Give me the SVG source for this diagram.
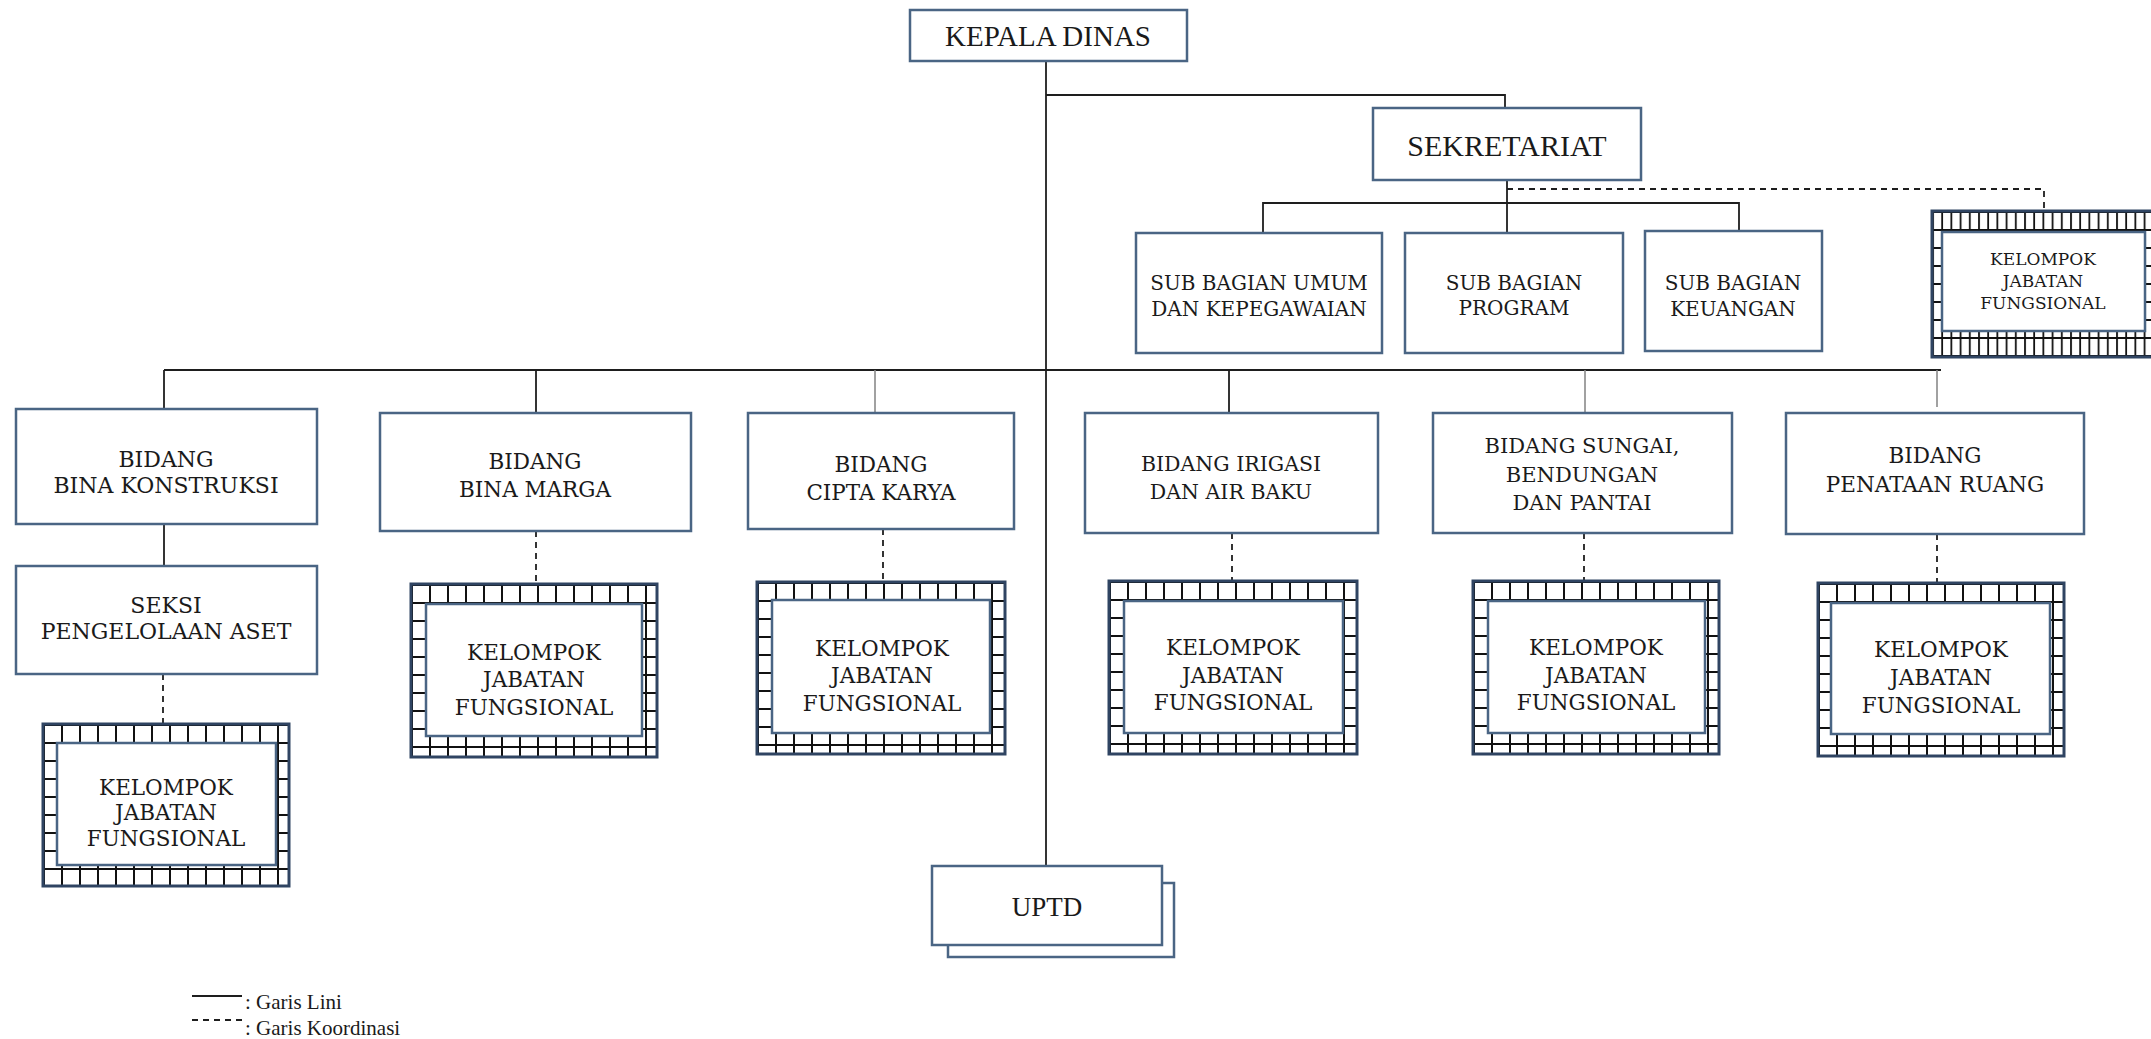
<svg xmlns="http://www.w3.org/2000/svg" width="2151" height="1039" viewBox="0 0 2151 1039">
<defs>
<style>
.box{fill:#fff;stroke:#4a6584;stroke-width:2.5}
.kout{stroke:#2f4462;stroke-width:3}
.kin{fill:#fff;stroke:#4a6584;stroke-width:2.5}
.ln{fill:none;stroke:#1e1e1e;stroke-width:1.8}
.lg{fill:none;stroke:#8a8a8a;stroke-width:1.6}
.dash{fill:none;stroke:#1e1e1e;stroke-width:1.8;stroke-dasharray:6 5}
.t{font-family:"DejaVu Serif",serif;font-size:21.5px;fill:#1a1a1a;text-anchor:middle}
.tt{font-family:"Liberation Serif",serif;font-size:29px;fill:#1a1a1a;text-anchor:middle}
.sb{font-size:20px}
.lgd{font-family:"Liberation Serif",serif;font-size:21px;fill:#1a1a1a}
</style>
<pattern id="grid" width="18" height="18" patternUnits="userSpaceOnUse">
<rect width="18" height="18" fill="#fff"/>
<path d="M0 1H18M1 0V18" stroke="#111" stroke-width="2" fill="none"/>
</pattern>
<pattern id="grid2" width="9.2" height="18" patternUnits="userSpaceOnUse">
<rect width="9.2" height="18" fill="#fff"/>
<path d="M0 1H9.2M1 0V18" stroke="#111" stroke-width="1.8" fill="none"/>
</pattern>
</defs>
<rect width="2151" height="1039" fill="#fff"/>

<g id="connectors">
<path class="ln" d="M1046 61V866"/>
<path class="ln" d="M1046 95H1505V108"/>
<path class="ln" d="M1507 180V233"/>
<path class="ln" d="M1263 233V203H1739V231"/>
<path class="dash" d="M1507 189H2044V211"/>
<path class="ln" d="M164 370H1941"/>
<path class="ln" d="M164 370V409"/>
<path class="ln" d="M164 524V566"/>
<path class="dash" d="M163 674V724"/>
<path class="ln" d="M536 370V413"/>
<path class="dash" d="M536 531V584"/>
<path class="lg" d="M875 370V413"/>
<path class="dash" d="M883 529V582"/>
<path class="ln" d="M1229 370V413"/>
<path class="dash" d="M1232 533V581"/>
<path class="lg" d="M1585 370V413"/>
<path class="dash" d="M1584 533V581"/>
<path class="lg" d="M1937 370V407"/>
<path class="dash" d="M1937 534V583"/>
</g>

<g id="kepala-dinas">
<rect class="box" x="910" y="10" width="277" height="51"/>
<text class="tt" x="1048" y="46">KEPALA DINAS</text>
</g>
<g id="sekretariat">
<rect class="box" x="1373" y="108" width="268" height="72"/>
<text class="tt" style="font-size:30px" x="1507" y="156">SEKRETARIAT</text>
</g>
<g id="sub-umum">
<rect class="box" x="1136" y="233" width="246" height="120"/>
<text class="t sb" x="1259" y="290">SUB BAGIAN UMUM</text>
<text class="t sb" x="1259" y="316">DAN KEPEGAWAIAN</text>
</g>
<g id="sub-program">
<rect class="box" x="1405" y="233" width="218" height="120"/>
<text class="t sb" x="1514" y="290">SUB BAGIAN</text>
<text class="t sb" x="1514" y="315">PROGRAM</text>
</g>
<g id="sub-keuangan">
<rect class="box" x="1645" y="231" width="177" height="120"/>
<text class="t sb" x="1733" y="290">SUB BAGIAN</text>
<text class="t sb" x="1733" y="316">KEUANGAN</text>
</g>
<g id="kjf-sekretariat" transform="translate(1932,211)">
<rect class="kout" width="225" height="146" fill="url(#grid2)"/>
<rect class="kin" x="10" y="21" width="203" height="99"/>
<text class="t" style="font-size:17px" x="111" y="54">KELOMPOK</text>
<text class="t" style="font-size:17px" x="111" y="76">JABATAN</text>
<text class="t" style="font-size:17px" x="111" y="98">FUNGSIONAL</text>
</g>

<g id="bidang-bina-konstruksi">
<rect class="box" x="16" y="409" width="301" height="115"/>
<text class="t" style="font-size:22px" x="166" y="467">BIDANG</text>
<text class="t" style="font-size:22px" x="166" y="493">BINA KONSTRUKSI</text>
</g>
<g id="seksi-aset">
<rect class="box" x="16" y="566" width="301" height="108"/>
<text class="t" style="font-size:22px" x="166" y="613">SEKSI</text>
<text class="t" style="font-size:22px" x="166" y="639">PENGELOLAAN ASET</text>
</g>
<g id="kjf-bina-konstruksi" transform="translate(43,724)">
<rect class="kout" width="246" height="162" fill="url(#grid)"/>
<rect class="kin" x="14" y="19" width="219" height="122"/>
<text class="t" x="123" y="71">KELOMPOK</text>
<text class="t" x="123" y="96">JABATAN</text>
<text class="t" x="123" y="122">FUNGSIONAL</text>
</g>

<g id="bidang-bina-marga">
<rect class="box" x="380" y="413" width="311" height="118"/>
<text class="t" x="535" y="469">BIDANG</text>
<text class="t" x="535" y="497">BINA MARGA</text>
</g>
<g id="kjf-bina-marga" transform="translate(411,584)">
<rect class="kout" width="246" height="173" fill="url(#grid)"/>
<rect class="kin" x="15" y="20" width="216" height="132"/>
<text class="t" x="123" y="76">KELOMPOK</text>
<text class="t" x="123" y="103">JABATAN</text>
<text class="t" x="123" y="131">FUNGSIONAL</text>
</g>

<g id="bidang-cipta-karya">
<rect class="box" x="748" y="413" width="266" height="116"/>
<text class="t" x="881" y="472">BIDANG</text>
<text class="t" x="881" y="500">CIPTA KARYA</text>
</g>
<g id="kjf-cipta-karya" transform="translate(757,582)">
<rect class="kout" width="248" height="172" fill="url(#grid)"/>
<rect class="kin" x="15" y="18" width="218" height="133"/>
<text class="t" x="125" y="74">KELOMPOK</text>
<text class="t" x="125" y="101">JABATAN</text>
<text class="t" x="125" y="129">FUNGSIONAL</text>
</g>

<g id="bidang-irigasi">
<rect class="box" x="1085" y="413" width="293" height="120"/>
<text class="t" style="font-size:20.5px" x="1231" y="471">BIDANG IRIGASI</text>
<text class="t" style="font-size:20.5px" x="1231" y="499">DAN AIR BAKU</text>
</g>
<g id="kjf-irigasi" transform="translate(1109,581)">
<rect class="kout" width="248" height="173" fill="url(#grid)"/>
<rect class="kin" x="15" y="20" width="219" height="132"/>
<text class="t" x="124" y="74">KELOMPOK</text>
<text class="t" x="124" y="102">JABATAN</text>
<text class="t" x="124" y="129">FUNGSIONAL</text>
</g>

<g id="bidang-sungai">
<rect class="box" x="1433" y="413" width="299" height="120"/>
<text class="t" style="font-size:21px" x="1582" y="453">BIDANG SUNGAI,</text>
<text class="t" style="font-size:21px" x="1582" y="482">BENDUNGAN</text>
<text class="t" style="font-size:21px" x="1582" y="510">DAN PANTAI</text>
</g>
<g id="kjf-sungai" transform="translate(1473,581)">
<rect class="kout" width="246" height="173" fill="url(#grid)"/>
<rect class="kin" x="15" y="20" width="217" height="132"/>
<text class="t" x="123" y="74">KELOMPOK</text>
<text class="t" x="123" y="102">JABATAN</text>
<text class="t" x="123" y="129">FUNGSIONAL</text>
</g>

<g id="bidang-penataan-ruang">
<rect class="box" x="1786" y="413" width="298" height="121"/>
<text class="t" x="1935" y="463">BIDANG</text>
<text class="t" x="1935" y="492">PENATAAN RUANG</text>
</g>
<g id="kjf-penataan-ruang" transform="translate(1818,583)">
<rect class="kout" width="246" height="173" fill="url(#grid)"/>
<rect class="kin" x="13" y="20" width="219" height="131"/>
<text class="t" x="123" y="74">KELOMPOK</text>
<text class="t" x="123" y="102">JABATAN</text>
<text class="t" x="123" y="130">FUNGSIONAL</text>
</g>

<g id="uptd">
<rect class="box" x="948" y="883" width="226" height="74"/>
<rect class="box" x="932" y="866" width="230" height="79"/>
<text class="tt" style="font-size:27px" x="1047" y="916">UPTD</text>
</g>

<g id="legend">
<path class="ln" d="M192 996H242"/>
<text class="lgd" x="245" y="1009">: Garis Lini</text>
<path class="dash" d="M192 1020H242"/>
<text class="lgd" x="245" y="1035">: Garis Koordinasi</text>
</g>
</svg>
